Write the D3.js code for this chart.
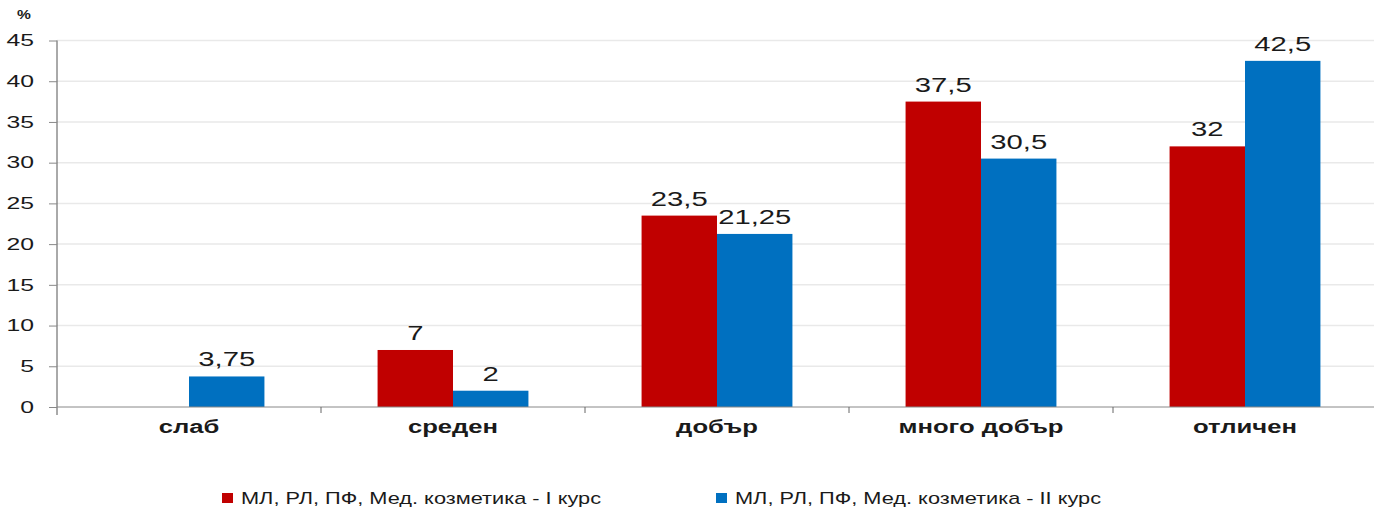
<!DOCTYPE html>
<html>
<head>
<meta charset="utf-8">
<script src="https://cdn.jsdelivr.net/npm/d3@7"></script>
<style>
  body { margin: 0; background: #fff; }
  text { font-family: "Liberation Sans", Arial, sans-serif; fill: #1a1a1a; }
</style>
</head>
<body>
<div class="container"></div>
<script>
const WIDTH = 1374;
const HEIGHT = 508;
const STRETCH = 1.5;

var categories = ['слаб', 'среден', 'добър', 'много добър', 'отличен'];
var seriesNames = ['МЛ, РЛ, ПФ, Мед. козметика - I курс', 'МЛ, РЛ, ПФ, Мед. козметика - II курс'];
var firstCourse = [0, 7, 23.5, 37.5, 32];
var secondCourse = [3.75, 2, 21.25, 30.5, 42.5];
var yTicks = [0, 5, 10, 15, 20, 25, 30, 35, 40, 45];
var colors = ['#c00000', '#0070c0'];

var translate = function(x, y) {
    return `translate(${x},${y})`;
};

var fmt = function(v) {
    return String(v).replace('.', ',');
};

var svg = d3.select('.container').append('svg')
    .attr('width', WIDTH)
    .attr('height', HEIGHT);

const PLOT_LEFT = 57, PLOT_RIGHT = 1377, PLOT_TOP = 40.5, PLOT_BOTTOM = 407;

var xScale = d3.scaleBand()
    .domain(categories)
    .range([PLOT_LEFT, PLOT_RIGHT]);

var xInner = d3.scaleBand()
    .domain([0, 1])
    .range([0, xScale.bandwidth()])
    .paddingOuter(0.75);

var yScale = d3.scaleLinear()
    .domain([0, 45])
    .range([PLOT_BOTTOM, PLOT_TOP]);

// gridlines
svg.append('g')
    .selectAll('line')
    .data(yTicks.slice(1))
    .enter().append('line')
    .attr('x1', PLOT_LEFT).attr('x2', WIDTH)
    .attr('y1', (d) => yScale(d)).attr('y2', (d) => yScale(d))
    .attr('stroke', '#e9e9e9')
    .attr('stroke-width', 1.5);

// bars
var rows = categories.map((c, i) => ({ cat: c, values: [firstCourse[i], secondCourse[i]] }));

var groups = svg.append('g').selectAll('g')
    .data(rows)
    .enter().append('g')
    .attr('transform', (d) => translate(xScale(d.cat), 0));

groups.selectAll('rect')
    .data((d) => d.values.map((v, k) => ({ v: v, k: k })))
    .enter().append('rect')
    .attr('x', (d) => xInner(d.k))
    .attr('width', xInner.bandwidth())
    .attr('y', (d) => yScale(d.v))
    .attr('height', (d) => PLOT_BOTTOM - yScale(d.v))
    .attr('fill', (d) => colors[d.k]);

groups.selectAll('text')
    .data((d) => d.values.map((v, k) => ({ v: v, k: k })).filter((d) => d.v > 0))
    .enter().append('text')
    .attr('transform', (d) => translate(xInner(d.k) + xInner.bandwidth() / 2, yScale(d.v) - 10) + ` scale(${STRETCH},1)`)
    .attr('text-anchor', 'middle')
    .style('font-size', '19.5px')
    .text((d) => fmt(d.v));

// y axis
var yAxis = d3.axisLeft(yScale).tickValues(yTicks).tickSize(8).tickSizeOuter(0);
var yg = svg.append('g')
    .attr('transform', translate(PLOT_LEFT, 0))
    .call(yAxis);
yg.select('.domain').attr('stroke', '#555').attr('d', `M0,${PLOT_TOP}V${PLOT_BOTTOM + 8}`);
yg.selectAll('.tick line').attr('stroke', '#888');
yg.selectAll('.tick text')
    .attr('x', -23 / STRETCH)
    .attr('transform', `scale(${STRETCH},1)`)
    .style('font-size', '16.5px')
    .style('font-family', '"Liberation Sans", Arial, sans-serif')
    .attr('fill', '#1a1a1a');

// x axis
var xAxis = d3.axisBottom(xScale).tickSize(0).tickFormat('');
var xg = svg.append('g')
    .attr('transform', translate(0, PLOT_BOTTOM))
    .call(xAxis);
xg.select('.domain').attr('stroke', '#888').attr('d', `M${PLOT_LEFT},0H${WIDTH}`);

svg.append('g').selectAll('line')
    .data(categories.slice(1))
    .enter().append('line')
    .attr('x1', (d) => xScale(d)).attr('x2', (d) => xScale(d))
    .attr('y1', PLOT_BOTTOM).attr('y2', PLOT_BOTTOM + 6)
    .attr('stroke', '#666');

svg.append('g').selectAll('text')
    .data(categories)
    .enter().append('text')
    .attr('transform', (d) => translate(xScale(d) + xScale.bandwidth() / 2, 433) + ` scale(1.35,1)`)
    .attr('text-anchor', 'middle')
    .style('font-size', '19px')
    .style('font-weight', 'bold')
    .text((d) => d);

svg.append('text')
    .attr('transform', translate(24, 19) + ' scale(1.3,1)')
    .attr('text-anchor', 'middle')
    .style('font-size', '12px')
    .style('font-weight', 'bold')
    .text('%');

// legend
var legendX = [222, 716];
var legend = svg.append('g').selectAll('g')
    .data(seriesNames)
    .enter().append('g')
    .attr('transform', (d, i) => translate(legendX[i], 493));

legend.append('rect')
    .attr('width', 11).attr('height', 10)
    .attr('fill', (d, i) => colors[i]);

legend.append('text')
    .attr('transform', translate(19, 11) + ' scale(1.28,1)')
    .style('font-size', '17px')
    .text((d) => d);
</script>
</body>
</html>
